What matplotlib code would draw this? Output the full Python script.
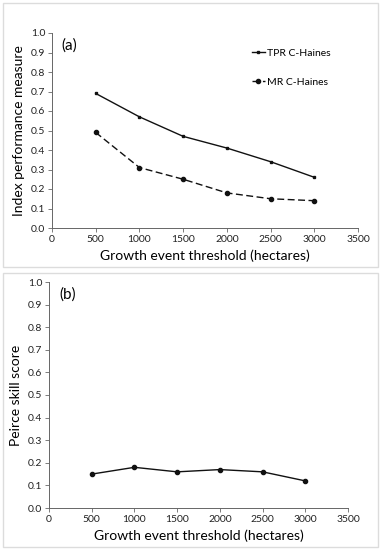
import numpy as np
from matplotlib import pyplot as plt
from matplotlib.patches import Rectangle

plt.rcParams['font.family'] = ['Lato', 'DejaVu Sans']

thresholds = [500, 1000, 1500, 2000, 2500, 3000]
tpr = [0.69, 0.57, 0.47, 0.41, 0.34, 0.26]
mr = [0.49, 0.31, 0.25, 0.18, 0.15, 0.14]
pss = [0.15, 0.18, 0.16, 0.17, 0.16, 0.12]

xticks = [0, 500, 1000, 1500, 2000, 2500, 3000, 3500]
yticks = np.arange(0, 1.01, 0.1)

W, H = 383, 550
fig = plt.figure(figsize=(W / 100, H / 100), dpi=100)

# light frames around each panel (like Excel chart borders)
for (y0, y1) in [(3, 267), (273, 547)]:
    fig.patches.append(Rectangle((3 / W, 1 - y1 / H), 375 / W, (y1 - y0) / H,
                                 transform=fig.transFigure, fill=False,
                                 edgecolor='#dcdcdc', linewidth=1))

def style(ax, ylabel):
    ax.set_xlim(0, 3500)
    ax.set_ylim(0, 1.0)
    ax.set_xticks(xticks)
    ax.set_yticks(yticks)
    ax.set_yticklabels(['%.1f' % v for v in yticks])
    ax.tick_params(labelsize=7.5, length=3, width=0.6, color='#666666', pad=2,
                   labelcolor='#222222')
    for s in ['top', 'right']:
        ax.spines[s].set_visible(False)
    for s in ['left', 'bottom']:
        ax.spines[s].set_color('#666666')
        ax.spines[s].set_linewidth(0.7)
    ax.set_xlabel('Growth event threshold (hectares)', fontsize=10, labelpad=4)
    ax.set_ylabel(ylabel, fontsize=10, labelpad=4)

# top panel (a)
ax1 = fig.add_axes([52 / W, 1 - 228 / H, 306 / W, 195 / H])
ax1.plot(thresholds, tpr, color='#111111', lw=1, marker='s', ms=2, label='TPR C-Haines')
ax1.plot(thresholds, mr, color='#111111', lw=1, ls=(0, (5, 2.5)), marker='o', ms=3,
         label='MR C-Haines')
style(ax1, 'Index performance measure')
ax1.text(0.03, 0.975, '(a)', transform=ax1.transAxes, fontsize=11, va='top')
ax1.legend(loc='upper right', bbox_to_anchor=(0.94, 0.97), frameon=False, fontsize=7.5,
           handlelength=1.2, handletextpad=0.2, labelspacing=1.9)

# bottom panel (b)
ax2 = fig.add_axes([49 / W, 1 - 508 / H, 299 / W, 226 / H])
ax2.plot(thresholds, pss, color='#111111', lw=1, marker='o', ms=3)
style(ax2, 'Peirce skill score')
ax2.text(0.035, 0.975, '(b)', transform=ax2.transAxes, fontsize=11, va='top')

fig.savefig('out.png', dpi=100)
